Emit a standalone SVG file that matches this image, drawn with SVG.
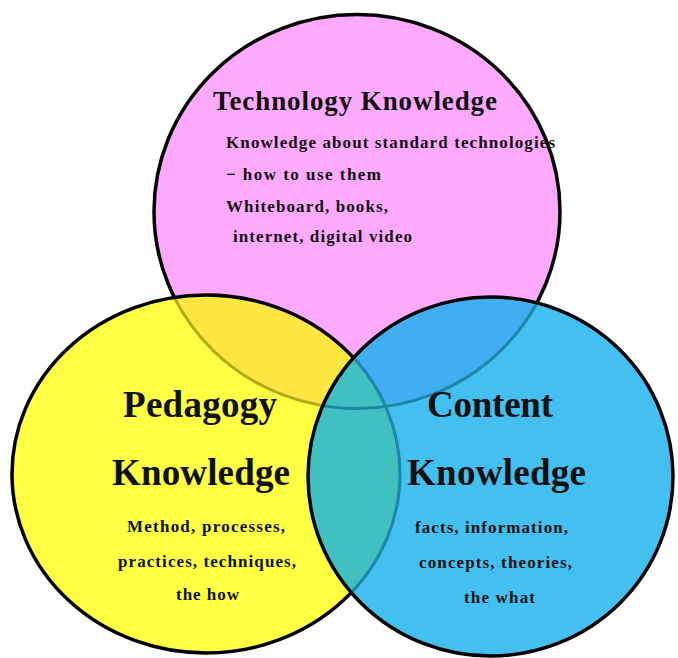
<svg xmlns="http://www.w3.org/2000/svg" width="678" height="658" viewBox="0 0 678 658">
<style>
text{font-family:"Liberation Serif","Times New Roman",serif;font-weight:bold;fill:#111;}
.h{font-size:37px;}
.t{font-size:27px;}
.b{font-size:17px;}
.edge{fill:none;stroke:#000;stroke-width:3.5;}
</style>
<defs>
<ellipse id="pk" cx="357" cy="211.5" rx="203" ry="197"/>
<ellipse id="yl" cx="206" cy="474" rx="194" ry="179"/>
<ellipse id="bl" cx="490.5" cy="476.5" rx="182.5" ry="179.5"/>
<clipPath id="cy"><use href="#yl"/></clipPath>
<clipPath id="cb"><use href="#bl"/></clipPath>
</defs>
<g id="technology">
<use href="#pk" fill="#FFAAFF" stroke="#000" stroke-width="3.5"/>
</g>
<g id="pedagogy">
<use href="#yl" fill="#FFFF44"/>
<use href="#pk" fill="#FFE640" clip-path="url(#cy)"/>
<use href="#pk" fill="none" stroke="#B0AC18" stroke-width="3" clip-path="url(#cy)"/>
<use href="#yl" class="edge"/>
</g>
<g id="content">
<use href="#bl" fill="#44C0F0"/>
<use href="#pk" fill="#40AEF0" clip-path="url(#cb)"/>
<use href="#yl" fill="#40C0C0" clip-path="url(#cb)"/>
<use href="#pk" fill="none" stroke="#1C86A8" stroke-width="3" clip-path="url(#cb)"/>
<use href="#yl" fill="none" stroke="#1C86A8" stroke-width="3" clip-path="url(#cb)"/>
<use href="#bl" class="edge"/>
</g>
<g id="connectors"/>
<g id="labels-technology">
<text class="t" x="213" y="110" textLength="284" lengthAdjust="spacing">Technology Knowledge</text>
<text class="b" x="226" y="148" textLength="329" lengthAdjust="spacing">Knowledge about standard technologies</text>
<text class="b" x="226" y="180" textLength="155" lengthAdjust="spacing">− how to use them</text>
<text class="b" x="226" y="212" textLength="162" lengthAdjust="spacing">Whiteboard, books,</text>
<text class="b" x="233" y="242" textLength="179" lengthAdjust="spacing">internet, digital video</text>
</g>
<g id="labels-pedagogy">
<text class="h" x="123" y="417" textLength="154" lengthAdjust="spacing">Pedagogy</text>
<text class="h" x="112" y="485" textLength="178" lengthAdjust="spacing">Knowledge</text>
<text class="b" x="127" y="532" textLength="158" lengthAdjust="spacing">Method, processes,</text>
<text class="b" x="118" y="567" textLength="178" lengthAdjust="spacing">practices, techniques,</text>
<text class="b" x="176" y="600" textLength="63" lengthAdjust="spacing">the how</text>
</g>
<g id="labels-content">
<text class="h" x="427" y="417" textLength="126" lengthAdjust="spacing">Content</text>
<text class="h" x="407" y="485" textLength="179" lengthAdjust="spacing">Knowledge</text>
<text class="b" x="415" y="533" textLength="153" lengthAdjust="spacing">facts, information,</text>
<text class="b" x="419" y="568" textLength="153" lengthAdjust="spacing">concepts, theories,</text>
<text class="b" x="464" y="603" textLength="71" lengthAdjust="spacing">the what</text>
</g>
</svg>
